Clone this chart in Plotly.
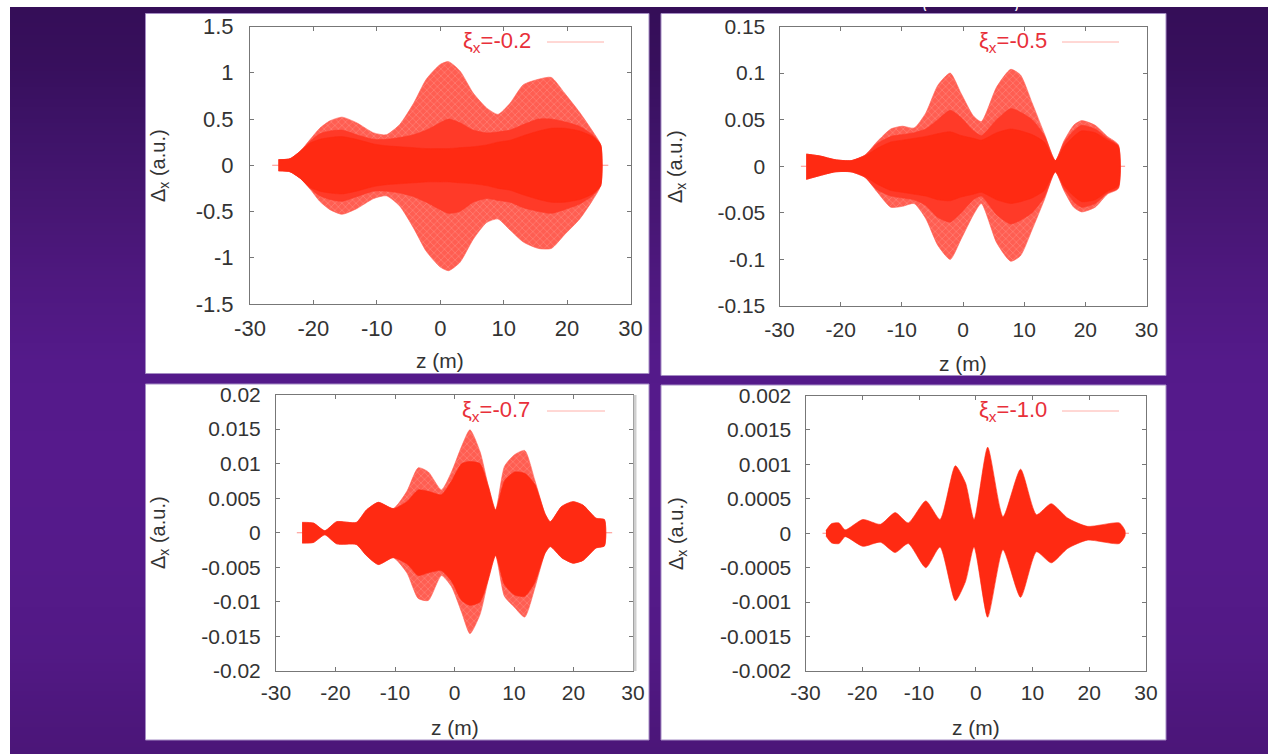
import plotly.graph_objects as go

W, H = 1268, 754

# ---------- data ----------
z_ticks = [-30, -20, -10, 0, 10, 20, 30]

# Panel A  xi_x = -0.2
a_name = "-0.2"
a_yticks = [-1.5, -1, -0.5, 0, 0.5, 1, 1.5]
a_yticktext = ["-1.5", "-1", "-0.5", "0", "0.5", "1", "1.5"]
a_z = [-25.5, -23.7, -22.1, -20.5, -19, -17.4, -15.5, -13.2, -10.5, -8.5, -6.4, -4.2, -2.2, 0, 1.3, 3.1, 5.2, 7.3, 9.1, 11, 13.1, 15.5, 17.5, 19.6, 22, 24, 25.3]
a_out_up = [0.06, 0.07, 0.15, 0.28, 0.40, 0.48, 0.52, 0.46, 0.35, 0.33, 0.44, 0.67, 0.93, 1.09, 1.12, 1.02, 0.78, 0.62, 0.55, 0.67, 0.87, 0.93, 0.95, 0.78, 0.57, 0.37, 0.22]
a_out_lo = [-0.06, -0.07, -0.14, -0.26, -0.39, -0.48, -0.53, -0.47, -0.36, -0.33, -0.44, -0.68, -0.93, -1.10, -1.14, -1.05, -0.80, -0.62, -0.58, -0.70, -0.83, -0.90, -0.90, -0.75, -0.58, -0.38, -0.22]
a_mid_up = [0.06, 0.07, 0.15, 0.26, 0.34, 0.37, 0.38, 0.33, 0.28, 0.28, 0.30, 0.33, 0.38, 0.46, 0.50, 0.46, 0.38, 0.35, 0.36, 0.38, 0.44, 0.50, 0.50, 0.47, 0.42, 0.33, 0.22]
a_mid_lo = [-0.06, -0.07, -0.14, -0.25, -0.33, -0.37, -0.39, -0.34, -0.28, -0.28, -0.30, -0.34, -0.40, -0.48, -0.52, -0.50, -0.40, -0.36, -0.38, -0.40, -0.46, -0.50, -0.52, -0.48, -0.42, -0.33, -0.22]
a_core_up = [0.06, 0.07, 0.15, 0.24, 0.28, 0.30, 0.31, 0.28, 0.23, 0.21, 0.20, 0.19, 0.18, 0.18, 0.18, 0.19, 0.20, 0.22, 0.25, 0.27, 0.32, 0.37, 0.40, 0.40, 0.37, 0.31, 0.22]
a_core_lo = [-0.06, -0.07, -0.14, -0.24, -0.28, -0.30, -0.31, -0.28, -0.23, -0.21, -0.20, -0.19, -0.18, -0.18, -0.18, -0.19, -0.20, -0.22, -0.25, -0.27, -0.32, -0.37, -0.40, -0.40, -0.37, -0.31, -0.22]

# Panel B  xi_x = -0.5
b_name = "-0.5"
b_yticks = [-0.15, -0.1, -0.05, 0, 0.05, 0.1, 0.15]
b_yticktext = ["-0.15", "-0.1", "-0.05", "0", "0.05", "0.1", "0.15"]
b_z = [-25.6, -23.4, -20.9, -18.3, -16, -14.1, -11.8, -9.9, -8, -6.1, -4.1, -2.1, -0.3, 1.7, 3, 5.5, 7.8, 9.4, 11.3, 13.3, 15.1, 16.5, 18.1, 19.4, 21.6, 23.6, 25.4]
b_out_up = [0.013, 0.011, 0.007, 0.006, 0.012, 0.026, 0.040, 0.043, 0.041, 0.057, 0.087, 0.100, 0.078, 0.054, 0.048, 0.085, 0.104, 0.098, 0.068, 0.035, 0.006, 0.027, 0.044, 0.049, 0.044, 0.032, 0.023]
b_out_lo = [-0.014, -0.010, -0.006, -0.006, -0.012, -0.027, -0.044, -0.043, -0.040, -0.056, -0.085, -0.100, -0.078, -0.052, -0.040, -0.082, -0.102, -0.096, -0.068, -0.036, -0.006, -0.026, -0.044, -0.049, -0.044, -0.030, -0.024]
b_mid_up = [0.013, 0.011, 0.007, 0.006, 0.012, 0.024, 0.032, 0.034, 0.036, 0.040, 0.050, 0.060, 0.052, 0.038, 0.033, 0.050, 0.062, 0.058, 0.050, 0.033, 0.006, 0.025, 0.038, 0.044, 0.040, 0.030, 0.022]
b_mid_lo = [-0.014, -0.010, -0.006, -0.006, -0.012, -0.025, -0.032, -0.034, -0.036, -0.042, -0.055, -0.060, -0.050, -0.036, -0.032, -0.052, -0.062, -0.058, -0.050, -0.033, -0.006, -0.024, -0.038, -0.044, -0.040, -0.029, -0.023]
b_core_up = [0.013, 0.011, 0.007, 0.006, 0.011, 0.019, 0.026, 0.028, 0.030, 0.032, 0.035, 0.037, 0.033, 0.030, 0.028, 0.036, 0.040, 0.038, 0.034, 0.026, 0.006, 0.021, 0.032, 0.038, 0.036, 0.028, 0.021]
b_core_lo = [-0.014, -0.010, -0.006, -0.006, -0.011, -0.019, -0.026, -0.028, -0.030, -0.032, -0.036, -0.037, -0.033, -0.030, -0.028, -0.036, -0.040, -0.038, -0.034, -0.026, -0.006, -0.021, -0.032, -0.038, -0.036, -0.027, -0.021]

# Panel C  xi_x = -0.7
c_name = "-0.7"
c_yticks = [-0.02, -0.015, -0.01, -0.005, 0, 0.005, 0.01, 0.015, 0.02]
c_yticktext = ["-0.02", "-0.015", "-0.01", "-0.005", "0", "0.005", "0.01", "0.015", "0.02"]
c_z = [-25.6, -23.7, -21.8, -19.8, -16.5, -14.8, -12.8, -10.3, -8, -6.1, -4.4, -2.2, -0.5, 1.2, 2.6, 4.3, 5.7, 6.9, 8.4, 10.1, 11.8, 13.5, 15.2, 16.1, 18, 19.9, 21.6, 23.8, 25.2]
c_out_up = [0.0015, 0.0014, 0.0003, 0.0016, 0.0015, 0.0033, 0.0044, 0.0035, 0.0060, 0.0094, 0.0088, 0.0062, 0.0088, 0.0125, 0.0149, 0.0117, 0.0067, 0.0033, 0.0096, 0.0113, 0.0119, 0.0076, 0.0028, 0.0016, 0.0038, 0.0045, 0.0040, 0.0021, 0.0019]
c_out_lo = [-0.0015, -0.0014, -0.0003, -0.0016, -0.0017, -0.0033, -0.0046, -0.0036, -0.0058, -0.0095, -0.0098, -0.0062, -0.0078, -0.0115, -0.0146, -0.0118, -0.0067, -0.0033, -0.0092, -0.0108, -0.0122, -0.0080, -0.0030, -0.0020, -0.0036, -0.0044, -0.0040, -0.0022, -0.0019]
c_core_up = [0.0015, 0.0014, 0.0003, 0.0016, 0.0015, 0.0033, 0.0044, 0.0035, 0.0045, 0.0062, 0.0060, 0.0055, 0.0075, 0.0100, 0.0103, 0.0100, 0.0067, 0.0033, 0.0075, 0.0088, 0.0086, 0.0070, 0.0028, 0.0016, 0.0038, 0.0045, 0.0040, 0.0021, 0.0019]
c_core_lo = [-0.0015, -0.0014, -0.0003, -0.0016, -0.0017, -0.0033, -0.0046, -0.0036, -0.0045, -0.0062, -0.0058, -0.0055, -0.0070, -0.0098, -0.0105, -0.0100, -0.0067, -0.0033, -0.0075, -0.0090, -0.0092, -0.0072, -0.0030, -0.0020, -0.0036, -0.0044, -0.0040, -0.0022, -0.0019]

# Panel D  xi_x = -1.0
d_name = "-1.0"
d_yticks = [-0.002, -0.0015, -0.001, -0.0005, 0, 0.0005, 0.001, 0.0015, 0.002]
d_yticktext = ["-0.002", "-0.0015", "-0.001", "-0.0005", "0", "0.0005", "0.001", "0.0015", "0.002"]
d_z = [-26.4, -25.4, -24.1, -23, -19.9, -16.8, -14.2, -11.9, -8.8, -6.3, -3.6, -1.8, -0.3, 2.1, 4.8, 7.9, 10.7, 13.3, 16.2, 19.7, 25.3, 26.3]
d_out_up = [0.00004, 0.00014, 0.00015, 0.00005, 0.00020, 0.00013, 0.00030, 0.00015, 0.00047, 0.00020, 0.00098, 0.00073, 0.00020, 0.00125, 0.00024, 0.00093, 0.00027, 0.00043, 0.00022, 0.00010, 0.00015, 0.00004]
d_out_lo = [-0.00004, -0.00014, -0.00015, -0.00005, -0.00019, -0.00013, -0.00028, -0.00015, -0.00050, -0.00020, -0.00098, -0.00070, -0.00020, -0.00122, -0.00024, -0.00093, -0.00027, -0.00043, -0.00022, -0.00010, -0.00015, -0.00004]

# background colour stops (position down the page, RGB)
bg_pos = [7, 60, 130, 200, 280, 360, 450, 560, 650, 700, 754]
bg_rgb = [(53, 14, 88), (55, 15, 92), (62, 19, 104), (70, 22, 114), (78, 24, 127), (84, 26, 138),
          (86, 26, 140), (85, 26, 138), (82, 25, 133), (78, 23, 126), (75, 22, 120)]

# ---------- styling and layout in pixels ----------
RED = "#ff2a12"
MID = "#ff3a28"
PALE = "#ff5e52"
TICK = "#333333"
AXIS = "#777777"
FONT = "Liberation Sans"

def fx(p):
    return p / W
def fy(p):
    return 1 - p / H

panels = [
    dict(name=a_name, z=a_z, ou=a_out_up, ol=a_out_lo, mu=a_mid_up, ml=a_mid_lo, cu=a_core_up, cl=a_core_lo,
         yt=a_yticks, ytt=a_yticktext, yr=(-1.5, 1.5), box=(250, 630.5, 26.5, 304), card=(145.5, 649, 13.5, 373.5),
         leg=(533, 547, 604, 42), ytx=159, ytitle=166, xtitle=360, zl=(-26.5, 26.5), fs=22, xso=5, yso=11),
    dict(name=b_name, z=b_z, ou=b_out_up, ol=b_out_lo, mu=b_mid_up, ml=b_mid_lo, cu=b_core_up, cl=b_core_lo,
         yt=b_yticks, ytt=b_yticktext, yr=(-0.15, 0.15), box=(779.5, 1146.5, 26.5, 306), card=(661, 1166, 13.5, 375.5),
         leg=(1049, 1062, 1119, 42), ytx=677, ytitle=167, xtitle=363, zl=(-26.5, 26.5), fs=21, xso=5, yso=9),
    dict(name=c_name, z=c_z, ou=c_out_up, ol=c_out_lo, mu=None, ml=None, cu=c_core_up, cl=c_core_lo,
         yt=c_yticks, ytt=c_yticktext, yr=(-0.02, 0.02), box=(276, 633, 394.5, 671), card=(145.5, 649, 384, 740),
         leg=(532, 547, 605, 411), ytx=159, ytitle=533, xtitle=727, zl=(-26.5, 26.5), fs=21, xso=3, yso=10),
    dict(name=d_name, z=d_z, ou=d_out_up, ol=d_out_lo, mu=None, ml=None, cu=None, cl=None,
         yt=d_yticks, ytt=d_yticktext, yr=(-0.002, 0.002), box=(805.5, 1146, 395.5, 671), card=(661, 1166, 385, 740),
         leg=(1049, 1062, 1119, 411), ytx=677, ytitle=534, xtitle=727, zl=(-27, 27), fs=21, xso=3, yso=9),
]

fig = go.Figure()
shapes = []
annotations = []

# page background: vertical gradient painted top-down in short steps, each reaching the page bottom
def bg_at(p):
    for i in range(len(bg_pos) - 1):
        if p <= bg_pos[i + 1]:
            t = (p - bg_pos[i]) / (bg_pos[i + 1] - bg_pos[i])
            a, b = bg_rgb[i], bg_rgb[i + 1]
            return "rgb(%d,%d,%d)" % tuple(round(a[k] + (b[k] - a[k]) * t) for k in range(3))
    return "rgb(%d,%d,%d)" % bg_rgb[-1]

for p in range(bg_pos[0], H, 4):
    shapes.append(dict(type="rect", xref="paper", yref="paper", layer="below",
                       x0=fx(10), x1=1, y0=0, y1=fy(p), fillcolor=bg_at(p), line_width=0))

def band(z, up, lo, colour, xa, ya, pattern=None):
    fig.add_trace(go.Scatter(
        x=list(z) + list(z)[::-1], y=list(up) + list(lo)[::-1],
        mode="lines", fill="toself", fillcolor=colour, fillpattern=pattern,
        line=dict(color=colour, width=0.6, shape="spline", smoothing=0.6), xaxis=xa, yaxis=ya,
        hoverinfo="skip", showlegend=False))

layout_axes = {}
for i, p in enumerate(panels, start=1):
    sfx = "" if i == 1 else str(i)
    xa, ya = "x" + sfx, "y" + sfx
    x0, x1, y0, y1 = p["box"]
    cx0, cx1, cy0, cy1 = p["card"]
    shapes.append(dict(type="rect", xref="paper", yref="paper", layer="below",
                       x0=fx(cx0), x1=fx(cx1), y0=fy(cy1), y1=fy(cy0),
                       fillcolor="white", line=dict(color="#a58cc4", width=1)))
    axis_common = dict(ticks="inside", ticklen=4, tickwidth=1, tickcolor=AXIS, showline=True, linecolor=AXIS,
                       linewidth=1, mirror="ticks", showgrid=False, zeroline=False, automargin=False,
                       tickfont=dict(family=FONT, size=p["fs"], color=TICK))
    layout_axes["xaxis" + sfx] = dict(domain=[fx(x0), fx(x1)], range=[-30, 30], anchor=ya, tickvals=z_ticks,
                                      ticktext=[str(t) for t in z_ticks], ticklabelstandoff=p["xso"], **axis_common)
    layout_axes["yaxis" + sfx] = dict(domain=[fy(y1), fy(y0)], range=list(p["yr"]), anchor=xa, tickvals=p["yt"],
                                      ticktext=p["ytt"], ticklabelstandoff=p["yso"], **axis_common)

    # thin zero trace that shows past the band ends
    fig.add_trace(go.Scatter(x=list(p["zl"]), y=[0, 0], mode="lines", line=dict(color="#ff8f88", width=1),
                             xaxis=xa, yaxis=ya, hoverinfo="skip", showlegend=False))
    hatch = dict(shape="x", size=5, solidity=0.2, fgcolor="#ffb8b0", bgcolor=PALE)
    band(p["z"], p["ou"], p["ol"], PALE if p["cu"] else RED, xa, ya, hatch if p["cu"] else None)
    if p["mu"]:
        band(p["z"], p["mu"], p["ml"], MID, xa, ya)
    if p["cu"]:
        band(p["z"], p["cu"], p["cl"], RED, xa, ya)

    # legend text and key, as in the source plot
    tr, k0, k1, ky = p["leg"]
    annotations.append(dict(xref="paper", yref="paper", x=fx(tr), y=fy(ky), xanchor="right", yanchor="middle",
                            showarrow=False, text="ξ<sub>x</sub>=" + p["name"],
                            font=dict(family=FONT, size=22, color="#e8303a")))
    shapes.append(dict(type="line", xref="paper", yref="paper", x0=fx(k0), x1=fx(k1), y0=fy(ky), y1=fy(ky),
                       line=dict(color="#ffb0aa", width=1)))
    # axis titles
    annotations.append(dict(xref="paper", yref="paper", x=fx((x0 + x1) / 2), y=fy(p["xtitle"]), xanchor="center",
                            yanchor="middle", showarrow=False, text="z (m)",
                            font=dict(family=FONT, size=21, color=TICK)))
    annotations.append(dict(xref="paper", yref="paper", x=fx(p["ytx"]), y=fy(p["ytitle"]), xanchor="center",
                            yanchor="middle", textangle=-90, showarrow=False, text="Δ<sub>x</sub> (a.u.)",
                            font=dict(family=FONT, size=20, color=TICK)))

# light grey edge on the lower-left plot
shapes.append(dict(type="line", xref="paper", yref="paper", x0=fx(635), x1=fx(635), y0=fy(671), y1=fy(395),
                   line=dict(color="#cfcfcf", width=3)))

# bottom of the cropped slide title
for tx, s in ((925, "("), (1016, ")")):
    annotations.append(dict(xref="paper", yref="paper", x=fx(tx), y=fy(13), xanchor="center", yanchor="bottom",
                            showarrow=False, text="<b>" + s + "</b>", font=dict(family=FONT, size=10, color="white")))

fig.update_layout(width=W, height=H, margin=dict(l=0, r=0, t=0, b=0), autosize=False,
                  paper_bgcolor="white", plot_bgcolor="rgba(0,0,0,0)", showlegend=False,
                  shapes=shapes, annotations=annotations, **layout_axes)

fig.write_html("out.html", config={"displayModeBar": False, "responsive": False},
               post_script="document.body.style.margin='0';document.documentElement.style.overflow='hidden';")
